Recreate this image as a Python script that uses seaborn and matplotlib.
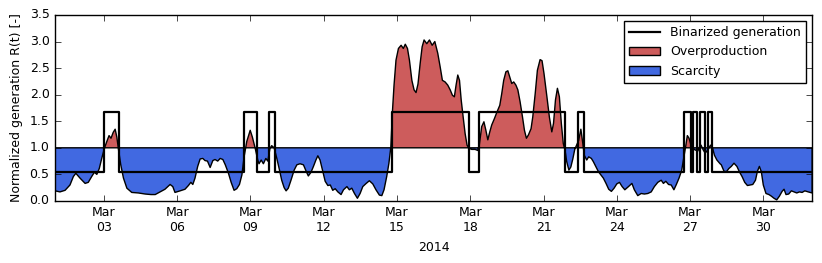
import numpy as np
import pandas as pd
import matplotlib
matplotlib.use('Agg')
import matplotlib.pyplot as plt
import matplotlib.dates as mdates
import seaborn as sns

# Generacion normalizada R(t) (dias desde 1 de marzo)
gen_days = [
    0.00, 0.20, 0.41, 0.61, 0.75, 0.85, 1.02, 1.23, 1.36, 1.50, 1.61, 1.71, 1.81, 1.91,
    2.02, 2.12, 2.21, 2.29, 2.38, 2.46, 2.53, 2.59, 2.69, 2.80, 2.94, 3.14, 3.41, 3.69,
    3.93, 4.10, 4.30, 4.50, 4.71, 4.82, 4.91, 5.12, 5.32, 5.46, 5.56, 5.64, 5.73, 5.84,
    5.94, 6.05, 6.14, 6.24, 6.35, 6.46, 6.55, 6.66, 6.76, 6.87, 6.97, 7.10, 7.21, 7.33,
    7.44, 7.55, 7.65, 7.74, 7.85, 7.99, 8.08, 8.19, 8.30, 8.35, 8.44, 8.53, 8.63, 8.71,
    8.80, 8.87, 8.97, 9.08, 9.19, 9.28, 9.38, 9.46, 9.55, 9.66, 9.79, 9.90, 10.03, 10.17,
    10.28, 10.37, 10.48, 10.58, 10.68, 10.76, 10.85, 10.95, 11.06, 11.17, 11.27, 11.37,
    11.47, 11.58, 11.71, 11.81, 11.95, 12.05, 12.15, 12.26, 12.38, 12.49, 12.60, 12.74,
    12.87, 13.01, 13.14, 13.28, 13.38, 13.47, 13.58, 13.67, 13.75, 13.81, 13.88, 13.96,
    14.06, 14.17, 14.26, 14.34, 14.43, 14.51, 14.61, 14.70, 14.78, 14.86, 14.95, 15.03,
    15.11, 15.22, 15.33, 15.44, 15.55, 15.67, 15.77, 15.86, 15.97, 16.08, 16.18, 16.27,
    16.35, 16.42, 16.49, 16.56, 16.63, 16.71, 16.79, 16.87, 16.95, 17.06, 17.20, 17.31,
    17.37, 17.47, 17.56, 17.64, 17.72, 17.80, 17.88, 17.99, 18.10, 18.21, 18.29, 18.37,
    18.46, 18.54, 18.62, 18.70, 18.78, 18.87, 18.95, 19.04, 19.14, 19.22, 19.30, 19.38,
    19.49, 19.56, 19.66, 19.75, 19.86, 19.94, 20.02, 20.14, 20.24, 20.34, 20.41, 20.49,
    20.57, 20.65, 20.73, 20.81, 20.88, 20.95, 21.04, 21.12, 21.20, 21.28, 21.44, 21.53,
    21.61, 21.67, 21.77, 21.85, 21.96, 22.04, 22.15, 22.25, 22.35, 22.45, 22.56, 22.67,
    22.78, 22.89, 23.00, 23.11, 23.22, 23.33, 23.48, 23.62, 23.72, 23.86, 24.00, 24.13,
    24.27, 24.41, 24.54, 24.68, 24.82, 24.91, 25.01, 25.12, 25.23, 25.34, 25.44, 25.55,
    25.66, 25.76, 25.83, 25.89, 25.96, 26.04, 26.13, 26.21, 26.32, 26.40, 26.45, 26.54,
    26.62, 26.73, 26.84, 26.92, 27.00, 27.10, 27.23, 27.28, 27.39, 27.49, 27.59, 27.69,
    27.80, 27.92, 28.02, 28.13, 28.24, 28.35, 28.46, 28.57, 28.68, 28.76, 28.84, 28.92,
    29.00, 29.11, 29.23, 29.33, 29.44, 29.55, 29.66, 29.77, 29.85, 29.93, 30.04, 30.15,
    30.26, 30.37, 30.48, 30.59, 30.70, 30.84, 31.00,
]
gen_values = [
    0.19, 0.17, 0.20, 0.30, 0.46, 0.52, 0.43, 0.33, 0.35, 0.46, 0.54, 0.50, 0.61, 0.80,
    0.99, 1.12, 1.23, 1.18, 1.29, 1.35, 1.20, 0.99, 0.68, 0.43, 0.24, 0.16, 0.15, 0.13,
    0.12, 0.12, 0.17, 0.22, 0.31, 0.27, 0.16, 0.19, 0.22, 0.29, 0.35, 0.31, 0.43, 0.65,
    0.79, 0.80, 0.76, 0.75, 0.63, 0.76, 0.78, 0.75, 0.80, 0.78, 0.68, 0.52, 0.35, 0.20,
    0.23, 0.31, 0.49, 0.83, 1.12, 1.33, 1.20, 1.00, 0.77, 0.70, 0.77, 0.70, 0.80, 0.75,
    0.99, 1.04, 1.00, 0.80, 0.58, 0.39, 0.25, 0.19, 0.24, 0.39, 0.58, 0.68, 0.70, 0.68,
    0.56, 0.47, 0.54, 0.65, 0.77, 0.85, 0.77, 0.58, 0.37, 0.29, 0.30, 0.20,
    0.23, 0.17, 0.12, 0.21, 0.27, 0.21, 0.24, 0.14, 0.05, 0.14, 0.27, 0.33,
    0.38, 0.32, 0.21, 0.11, 0.10, 0.21, 0.46, 0.71, 1.02, 1.65, 2.18, 2.65,
    2.87, 2.93, 2.87, 2.95, 2.87, 2.65, 2.27, 2.09, 2.04, 2.20, 2.59, 2.90,
    3.03, 2.96, 3.03, 2.93, 3.00, 2.78, 2.52, 2.27, 2.24, 2.18, 2.09, 1.99,
    1.96, 2.18, 2.37, 2.27, 1.90, 1.58, 1.27, 1.05, 0.99, 0.97, 0.97, 0.95,
    1.05, 1.40, 1.49, 1.33, 1.15, 1.30, 1.43, 1.55, 1.68, 1.80, 2.02, 2.27,
    2.43, 2.45, 2.33, 2.21, 2.24, 2.18, 2.09, 1.87, 1.58, 1.33, 1.18, 1.24,
    1.36, 1.58, 2.02, 2.46, 2.66, 2.64, 2.40, 1.96, 1.58, 1.30, 1.46, 1.90,
    2.12, 1.96, 1.46, 1.08, 0.96, 0.74, 0.58, 0.64, 0.79, 0.97, 1.14, 1.35,
    1.08, 0.86, 0.77, 0.83, 0.80, 0.74, 0.64, 0.55, 0.49, 0.43, 0.33, 0.22,
    0.18, 0.24, 0.32, 0.35, 0.27, 0.21, 0.27, 0.33, 0.21, 0.10, 0.14, 0.13,
    0.14, 0.17, 0.27, 0.35, 0.39, 0.33, 0.37, 0.31, 0.30, 0.21, 0.31, 0.43,
    0.58, 0.86, 1.05, 1.23, 1.18, 1.05, 0.98, 0.96, 0.94, 1.03, 1.05, 0.96,
    0.90, 0.96, 1.05, 1.00, 0.86, 0.77, 0.70, 0.68, 0.56, 0.55, 0.61, 0.65,
    0.71, 0.65, 0.55, 0.46, 0.35, 0.29, 0.30, 0.31, 0.39, 0.56, 0.65, 0.55,
    0.30, 0.14, 0.12, 0.09, 0.05, 0.02, 0.09, 0.18, 0.22, 0.12, 0.13, 0.19,
    0.17, 0.15, 0.17, 0.16, 0.19, 0.17, 0.15,
]

# Generacion binarizada: cambios de nivel (dias desde 1 de marzo)
bin_days = [0.00, 2.01, 2.62, 7.73, 8.26, 8.76, 9.01, 13.79, 16.93, 17.36, 20.86,
            21.40, 21.64, 25.77, 26.06, 26.14, 26.29, 26.41, 26.62, 26.74, 26.92, 31.00]
bin_levels = [0.55, 1.67, 0.55, 1.67, 0.55, 1.67, 0.55, 1.67, 0.55, 1.67, 0.55,
              1.67, 0.55, 1.67, 0.55, 1.67, 0.55, 1.67, 0.55, 1.67, 0.55, 0.55]

threshold = 1.0
start = pd.Timestamp('2014-03-01')

gen = pd.DataFrame({'fecha': start + pd.to_timedelta(gen_days, unit='D'), 'R': gen_values})
binz = pd.DataFrame({'fecha': start + pd.to_timedelta(bin_days, unit='D'), 'nivel': bin_levels})

plt.style.use('classic')
plt.rcParams['font.family'] = ['DejaVu Sans']
plt.rcParams['font.size'] = 9

fig, ax = plt.subplots(figsize=(8.22, 2.63), dpi=100)
fig.patch.set_facecolor('white')
fig.subplots_adjust(left=0.067, right=0.988, top=0.943, bottom=0.236)

x = mdates.date2num(gen['fecha'])
y = gen['R'].to_numpy()
ax.fill_between(x, threshold, y, where=y >= threshold, interpolate=True,
                facecolor='indianred', edgecolor='k', linewidth=1.0, label='Overproduction')
ax.fill_between(x, threshold, y, where=y <= threshold, interpolate=True,
                facecolor='royalblue', edgecolor='k', linewidth=1.0, label='Scarcity')

sns.lineplot(data=binz, x='fecha', y='nivel', ax=ax, color='k', linewidth=1.6,
             drawstyle='steps-post', label='Binarized generation', zorder=5)

ax.set_xlim(start, start + pd.Timedelta(days=31))
ax.set_ylim(0, 3.5)
ax.xaxis.set_major_locator(mdates.DayLocator(bymonthday=list(range(3, 31, 3))))
ax.xaxis.set_major_formatter(mdates.DateFormatter('%b\n%d'))
ax.yaxis.set_major_formatter(matplotlib.ticker.FormatStrFormatter('%.1f'))
ax.set_xlabel('2014')
ax.set_ylabel('Normalized generation R(t) [-]')

handles, labels = ax.get_legend_handles_labels()
order = [labels.index(l) for l in ['Binarized generation', 'Overproduction', 'Scarcity']]
ax.legend([handles[i] for i in order], [labels[i] for i in order], loc='upper right',
          fontsize=9, numpoints=1, handlelength=2.5)

fig.savefig('out.png', dpi=100, facecolor='white')
